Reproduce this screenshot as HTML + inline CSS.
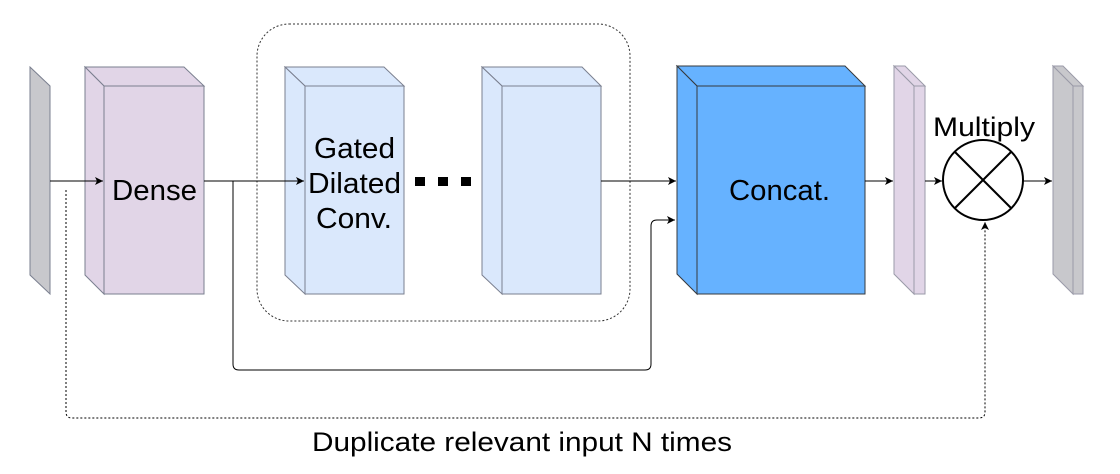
<!DOCTYPE html>
<html><head><style>body{margin:0;background:#fff}svg{display:block}</style></head><body>
<svg width="1120" height="474" viewBox="0 0 1120 474" xmlns="http://www.w3.org/2000/svg" font-family="Liberation Sans, sans-serif">
<defs>
<marker id="a" markerWidth="10" markerHeight="10" refX="8" refY="5" orient="auto" markerUnits="userSpaceOnUse"><path d="M0,1 L8,5 L0,9 L2,5 Z" fill="#000"/></marker>
</defs>
<g stroke="#7a7f8f" stroke-width="1">
<path d="M30,67 L50,86 L50,294 L30,275 Z" fill="#c8c8cc"/>
<path d="M85,67 L184,67 L204,86 L104,86 L85,67 Z" fill="#e1d5e7"/>
<path d="M85,67 L104,86 L104,294 L85,275 Z" fill="#e1d5e7"/>
<rect x="104" y="86" width="100" height="208" fill="#e1d5e7"/>
<path d="M285,67 L384,67 L404,86 L305,86 Z" fill="#dae8fc"/>
<path d="M285,67 L305,86 L305,294 L285,275 Z" fill="#dae8fc"/>
<rect x="305" y="86" width="99" height="208" fill="#dae8fc"/>
<path d="M482,67 L582,67 L601,86 L502,86 Z" fill="#dae8fc"/>
<path d="M482,67 L502,86 L502,294 L482,275 Z" fill="#dae8fc"/>
<rect x="502" y="86" width="99" height="208" fill="#dae8fc"/>
</g>
<g stroke="#36393d" stroke-width="1">
<path d="M677,66 L845,66 L865,86 L697,86 Z" fill="#66b2ff"/>
<path d="M677,66 L697,86 L697,294 L677,274 Z" fill="#66b2ff"/>
<rect x="697" y="86" width="168" height="208" fill="#66b2ff"/>
</g>
<g stroke="#9a9aa8" stroke-width="1">
<path d="M894,66 L905,66 L925,86 L914,86 Z" fill="#e1d5e7"/>
<path d="M894,66 L914,86 L914,294 L894,274 Z" fill="#e1d5e7"/>
<rect x="914" y="86" width="11" height="208" fill="#e1d5e7"/>
<path d="M1053,66 L1063,66 L1083,86 L1073,86 Z" fill="#c8c8cc"/>
<path d="M1053,66 L1073,86 L1073,294 L1053,274 Z" fill="#c8c8cc"/>
<rect x="1073" y="86" width="10" height="208" fill="#c8c8cc"/>
</g>
<rect x="257" y="24" width="373" height="297" rx="32" fill="none" stroke="#333" stroke-dasharray="2,2"/>
<rect x="415" y="177" width="10" height="9" fill="#000"/>
<rect x="438" y="177" width="10" height="9" fill="#000"/>
<rect x="461" y="177" width="10" height="9" fill="#000"/>
<g stroke="#000" stroke-width="1" fill="none">
<line x1="50" y1="181" x2="103" y2="181" marker-end="url(#a)"/>
<line x1="204" y1="181" x2="304" y2="181" marker-end="url(#a)"/>
<line x1="601" y1="181" x2="676" y2="181" marker-end="url(#a)"/>
<line x1="865" y1="181" x2="893" y2="181" marker-end="url(#a)"/>
<line x1="925" y1="181" x2="942" y2="181" marker-end="url(#a)"/>
<line x1="1023" y1="181" x2="1052" y2="181" marker-end="url(#a)"/>
<path d="M233,181 L233,364 Q233,370 239,370 L645,370 Q651,370 651,364 L651,226 Q651,220 657,220 L675,220" marker-end="url(#a)"/>
<path d="M66,190 L66,412 Q66,418 72,418 L979,418 Q985,418 985,412 L985,222" stroke-dasharray="2,2" marker-end="url(#a)"/>
<circle cx="983" cy="180" r="40" fill="#fff" stroke-width="2"/>
<line x1="955" y1="152" x2="1011" y2="208" stroke-width="2"/>
<line x1="1011" y1="152" x2="955" y2="208" stroke-width="2"/>
</g>
<g fill="#000" font-size="29">
<text x="112" y="200" textLength="85" lengthAdjust="spacingAndGlyphs">Dense</text>
<text x="314" y="158" textLength="81" lengthAdjust="spacingAndGlyphs">Gated</text>
<text x="308" y="193" textLength="93" lengthAdjust="spacingAndGlyphs">Dilated</text>
<text x="316" y="228" textLength="76" lengthAdjust="spacingAndGlyphs">Conv.</text>
<text x="729" y="200" textLength="101" lengthAdjust="spacingAndGlyphs">Concat.</text>
<text x="933" y="136" font-size="27" textLength="102" lengthAdjust="spacingAndGlyphs">Multiply</text>
<text x="312" y="451" font-size="27" textLength="420" lengthAdjust="spacingAndGlyphs">Duplicate relevant input N times</text>
</g>
</svg>
</body></html>
